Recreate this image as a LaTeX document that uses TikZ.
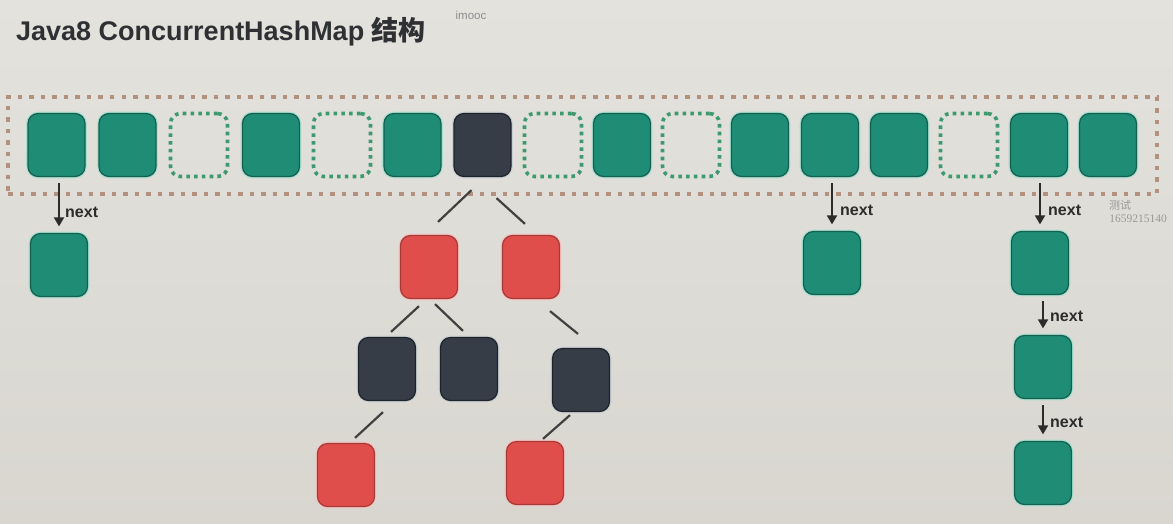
\documentclass[tikz,border=0pt]{standalone}
\usepackage{fontspec}
\setmainfont{Liberation Sans}
\newfontfamily\cjk{Noto Sans CJK SC}
\newfontfamily\serifw{Liberation Serif}
\usetikzlibrary{arrows.meta}
\definecolor{bgtop}{HTML}{E3E2DD}
\definecolor{bgbot}{HTML}{D8D6CF}
\definecolor{tealfill}{HTML}{1F8C75}
\definecolor{tealdraw}{HTML}{145F4E}
\definecolor{tealglow}{HTML}{A9DED0}
\definecolor{darkfill}{HTML}{363D47}
\definecolor{darkdraw}{HTML}{1F242B}
\definecolor{darkglow}{HTML}{C9CFD3}
\definecolor{redfill}{HTML}{E04E4C}
\definecolor{reddraw}{HTML}{A63A39}
\definecolor{redglow}{HTML}{F3C6C2}
\definecolor{gapcol}{HTML}{3E9A6E}
\definecolor{boxcol}{HTML}{B4917F}
\definecolor{inkcol}{HTML}{2C2C2C}
\definecolor{titlecol}{HTML}{2E3033}
\begin{document}
\begin{tikzpicture}[x=1pt,y=-1pt,
  cellbase/.style={minimum width=57pt,minimum height=63pt,inner sep=0pt,rounded corners=10pt},
  tealcell/.style={cellbase,fill=tealfill,draw=tealdraw,line width=1.2pt,
     preaction={draw=tealglow,line width=3.6pt}},
  darkcell/.style={cellbase,fill=darkfill,draw=darkdraw,line width=1.2pt,
     preaction={draw=darkglow,line width=3.6pt}},
  redcell/.style={cellbase,fill=redfill,draw=reddraw,line width=1.2pt,
     preaction={draw=redglow,line width=3.6pt}},
  gapcell/.style={cellbase,draw=gapcol,line width=3.6pt,dash pattern=on 3.6pt off 4.2pt},
  tablebox/.style={draw=boxcol,line width=4.5pt,dash pattern=on 4.5pt off 7pt,
     minimum width=1149pt,minimum height=97pt,inner sep=0pt},
  treeline/.style={draw=inkcol!90,line width=2.2pt},
  nextarrow/.style={draw=inkcol,line width=1.8pt,-{Triangle[length=9pt,width=10pt]},
     shorten <=6pt,shorten >=6.5pt},
  nextlbl/.style={anchor=west,inner sep=0pt,text=inkcol,font=\bfseries\fontsize{16}{18}\selectfont}
]
\useasboundingbox (0,0) rectangle (1173,523);
\shade[top color=bgtop,bottom color=bgbot] (0,0) rectangle (1173,523);

% title and marks
\node[anchor=base west,inner sep=0pt,text=titlecol,font=\bfseries\fontsize{27}{30}\selectfont] (title) at (16,40) {Java8 ConcurrentHashMap {\cjk\bfseries 结构}};
\node[text=black!45,inner sep=0pt,font=\fontsize{11.5}{12}\selectfont] (wm) at (471,15) {imooc};
\node[text=black!40,inner sep=0pt,font=\cjk\fontsize{11}{12}\selectfont] (wm2) at (1120,205) {测试};
\node[text=black!40,inner sep=0pt,font=\serifw\fontsize{11.5}{12}\selectfont] (wm3) at (1138,219) {1659215140};

% table
\node[tablebox] (table) at (582.5,145.5) {};
\foreach \i/\t/\x in {1/tealcell/56.5,2/tealcell/127.5,3/gapcell/199,4/tealcell/271,5/gapcell/342,
                   6/tealcell/412.5,7/darkcell/482.5,8/gapcell/553,9/tealcell/622,10/gapcell/691,
                   11/tealcell/760,12/tealcell/830,13/tealcell/899,14/gapcell/969,15/tealcell/1039,16/tealcell/1108}
  \node[\t] (c\i) at (\x,145) {};

% linked lists
\node[tealcell] (n1) at (59,265) {};
\node[tealcell] (n12) at (832,263) {};
\node[tealcell] (n15a) at (1040,263) {};
\node[tealcell] (n15b) at (1043,367) {};
\node[tealcell] (n15c) at (1043,473) {};

\draw[nextarrow] (c1.south -| n1.north) -- (n1.north);
\draw[nextarrow] (c12.south -| n12.north) -- (n12.north);
\draw[nextarrow] (c15.south -| n15a.north) -- (n15a.north);
\draw[nextarrow] (n15a.south -| n15b.north) -- (n15b.north);
\draw[nextarrow] (n15b.south) -- (n15c.north);
\node[nextlbl] (l1) at (65,212) {next};
\node[nextlbl] (l12) at (840,210) {next};
\node[nextlbl] (l15a) at (1048,210) {next};
\node[nextlbl] (l15b) at (1050,316) {next};
\node[nextlbl] (l15c) at (1050,422) {next};

% red-black tree
\node[redcell] (r1) at (429,267) {};
\node[redcell] (r2) at (531,267) {};
\node[darkcell] (d1) at (387,369) {};
\node[darkcell] (d2) at (469,369) {};
\node[darkcell] (d3) at (581,380) {};
\node[redcell] (r3) at (346,475) {};
\node[redcell] (r4) at (535,473) {};

\draw[treeline] ([shift={(-11,13)}]c7.south) -- ([shift={(9,-13)}]r1.north);
\draw[treeline] ([shift={(14,21)}]c7.south) -- ([shift={(-6,-11)}]r2.north);
\draw[treeline] ([shift={(-10,7)}]r1.south) -- ([shift={(4,-5)}]d1.north);
\draw[treeline] ([shift={(6,5)}]r1.south) -- ([shift={(-6,-6)}]d2.north);
\draw[treeline] ([shift={(19,12)}]r2.south) -- ([shift={(-3,-14)}]d3.north);
\draw[treeline] ([shift={(-4,11)}]d1.south) -- ([shift={(9,-5)}]r3.north);
\draw[treeline] ([shift={(-11,3)}]d3.south) -- ([shift={(8,-2)}]r4.north);
\end{tikzpicture}
\end{document}
